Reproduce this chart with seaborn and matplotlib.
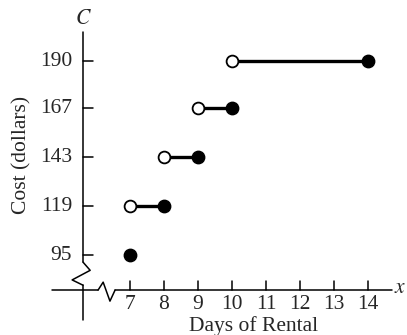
import pandas as pd
import matplotlib.pyplot as plt
import seaborn as sns

# step function data: open at left end, closed at right end
start_days = [7, 8, 9, 10]
end_days = [8, 9, 10, 14]
costs = [119, 143, 167, 190]
first_day = [7]
first_cost = [95]

x_ticks = [7, 8, 9, 10, 11, 12, 13, 14]
y_ticks = [95, 119, 143, 167, 190]

sns.set_style('white')
plt.rcParams['font.family'] = ['Liberation Serif', 'DejaVu Serif']
plt.rcParams['mathtext.fontset'] = 'stix'

seg = pd.DataFrame({
    'Dias': start_days + end_days,
    'Custo': costs + costs,
    'seg': list(range(len(costs))) * 2,
})
abertos = pd.DataFrame({'Dias': start_days, 'Custo': costs})
fechados = pd.DataFrame({'Dias': end_days + first_day, 'Custo': costs + first_cost})

fig = plt.figure(figsize=(4.07, 3.35), dpi=100)
ax = fig.add_axes([0, 0, 1, 1])

# origin of the (broken) axes
x0 = 5.618
y0 = 77.8
k = 'black'
fs = 15.5

# y axis with zigzag break
ax.plot([x0, x0], [204.3, 91.5], color=k, lw=1.1)
ax.plot([x0, x0 + 0.21, x0 - 0.32, x0], [91.5, 87.5, 82.8, 80.2], color=k, lw=1.1)
ax.plot([x0, x0], [80.2, 63.1], color=k, lw=1.1)
# x axis with zigzag break
ax.plot([4.706, 6.06], [y0, y0], color=k, lw=1.1)
ax.plot([6.06, 6.21, 6.41, 6.56], [y0, y0 + 3.9, y0 - 5.4, y0], color=k, lw=1.1)
ax.plot([6.56, 14.706], [y0, y0], color=k, lw=1.1)

# ticks and labels
for xt in x_ticks:
    ax.plot([xt, xt], [y0, y0 + 4.6], color=k, lw=1.1)
    ax.text(xt, y0 - 2.2, str(xt), ha='center', va='top', fontsize=fs)
for yt in y_ticks:
    ax.plot([x0, x0 + 0.28], [yt, yt], color=k, lw=1.1)
    ax.text(x0 - 0.32, yt, str(yt), ha='right', va='center', fontsize=fs)

ax.text(x0, 210.5, '$C$', ha='center', va='center', fontsize=fs)
ax.text(14.94, y0 + 0.8, '$x$', ha='center', va='center', fontsize=fs)
ax.text(10.62, 60.4, 'Days of Rental', ha='center', va='center', fontsize=fs)
ax.text(3.82, 144.0, 'Cost (dollars)', ha='center', va='center', rotation=90, fontsize=fs)

# segments, then the end points
sns.lineplot(data=seg, x='Dias', y='Custo', units='seg', estimator=None,
             color=k, linewidth=2.4, ax=ax, legend=False)
sns.scatterplot(data=fechados, x='Dias', y='Custo', color=k, s=80,
                edgecolor=k, linewidth=1, ax=ax, zorder=5)
sns.scatterplot(data=abertos, x='Dias', y='Custo', color='white', s=72,
                edgecolor=k, linewidth=1.3, ax=ax, zorder=5)

ax.set_xlim(3.176, 15.147)
ax.set_ylim(55.8, 220.0)
ax.axis('off')
fig.savefig('out.png', dpi=100)
